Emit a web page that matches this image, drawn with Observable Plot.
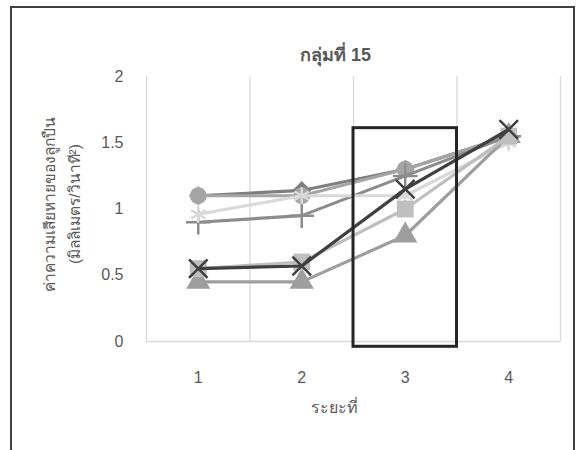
<!DOCTYPE html>
<html>
<head>
<meta charset="utf-8">
<script src="https://cdn.jsdelivr.net/npm/d3@7"></script>
<script src="https://cdn.jsdelivr.net/npm/@observablehq/plot@0.6"></script>
<style>
  html, body { margin: 0; padding: 0; background: #fff; overflow: hidden; }
  #chart { position: relative; width: 582px; height: 450px; overflow: hidden; }
  #frame { position: absolute; left: 10px; top: 6px; width: 565px; height: 500px;
           border: 2px solid #404040; box-sizing: border-box; pointer-events: none; }
</style>
</head>
<body>
<div id="chart"><div id="frame"></div></div>
<script>
// Stages along the bearing test (x axis)
const stages = [1, 2, 3, 4];
const yTicks = [0, 0.5, 1, 1.5, 2];

// Damage values per series, one value per stage
const diamondValues  = [1.10, 1.14, 1.30, 1.55];
const circleValues   = [1.10, 1.10, 1.30, 1.55];
const plusValues     = [0.90, 0.95, 1.25, 1.55];
const starValues     = [0.96, 1.10, 1.10, 1.50];
const triangleValues = [0.45, 0.45, 0.80, 1.55];
const squareValues   = [0.55, 0.60, 1.00, 1.55];
const timesValues    = [0.55, 0.57, 1.15, 1.60];

// Highlighted region around stage 3
const highlight = [{x1: 2.5, x2: 3.5, y1: -0.04, y2: 1.61}];

const title = "กลุ่มที่ 15";
const xLabel = "ระยะที่";
const yLabel = "ค่าความเสียหายของลูกปืน\n(มิลลิเมตร/วินาที²)";

// Drawing style for each series (drawn in this order)
const styles = [
  {values: diamondValues,  color: "#7f7f7f", symbol: "diamond2", r: 8.5, filled: true},
  {values: circleValues,   color: "#a5a5a5", symbol: "circle",   r: 8.5, filled: true},
  {values: plusValues,     color: "#8c8c8c", symbol: "plus",     r: 8,   filled: false},
  {values: starValues,     color: "#d9d9d9", symbol: "asterisk", r: 8,   filled: false},
  {values: triangleValues, color: "#9e9e9e", symbol: "triangle", r: 9,   filled: true},
  {values: squareValues,   color: "#bfbfbf", symbol: "square",   r: 9.5, filled: true},
  {values: timesValues,    color: "#404040", symbol: "times",    r: 8.5, filled: false}
];

const font = "'Liberation Sans', Arial, 'Noto Sans', sans-serif";

const seriesMarks = styles.flatMap((s) => {
  const rows = stages.map((st, i) => ({stage: st, value: s.values[i]}));
  return [
    Plot.line(rows, {x: "stage", y: "value", stroke: s.color, strokeWidth: 3.2}),
    Plot.dot(rows, s.filled
      ? {x: "stage", y: "value", symbol: () => s.symbol, r: s.r, fill: s.color, stroke: "none"}
      : {x: "stage", y: "value", symbol: () => s.symbol, r: s.r, fill: "none", stroke: s.color, strokeWidth: 2.5})
  ];
});

const chart = Plot.plot({
  width: 582,
  height: 450,
  marginLeft: 146,
  marginRight: 22,
  marginTop: 76,
  marginBottom: 109,
  style: {fontFamily: font, fontSize: "15px", color: "#595959", background: "transparent"},
  x: {domain: [0.5, 4.5]},
  y: {domain: [0, 2]},
  marks: [
    Plot.gridX([0.5, 1.5, 2.5, 3.5, 4.5], {stroke: "#d9d9d9", strokeOpacity: 1, strokeWidth: 1.3}),
    Plot.ruleY([0], {stroke: "#d9d9d9", strokeWidth: 1.3}),
    Plot.axisX({ticks: stages, tickSize: 0, tickPadding: 30, tickFormat: (d) => String(d), label: null, fontSize: 16, fill: "#595959"}),
    Plot.axisY({ticks: yTicks, tickSize: 0, tickPadding: 23, tickFormat: (d) => String(d), label: null, fontSize: 16, fill: "#595959"}),
    ...seriesMarks,
    Plot.rect(highlight, {x1: "x1", x2: "x2", y1: "y1", y2: "y2", fill: "none", stroke: "#262626", strokeWidth: 3}),
    Plot.text([title], {frameAnchor: "top", dx: -18, dy: -21, fontWeight: "bold", fontSize: 18, fill: "#595959", lineAnchor: "middle"}),
    Plot.text([xLabel], {frameAnchor: "bottom", dx: -19, dy: 66, fontSize: 16, fill: "#595959", lineAnchor: "middle"}),
    Plot.text([yLabel], {frameAnchor: "left", dx: -87, dy: -5, rotate: -90, fontSize: 15.5, fill: "#595959",
                         textAnchor: "middle", lineAnchor: "middle", lineHeight: 1.6})
  ]
});

document.getElementById("chart").prepend(chart);
</script>
</body>
</html>
